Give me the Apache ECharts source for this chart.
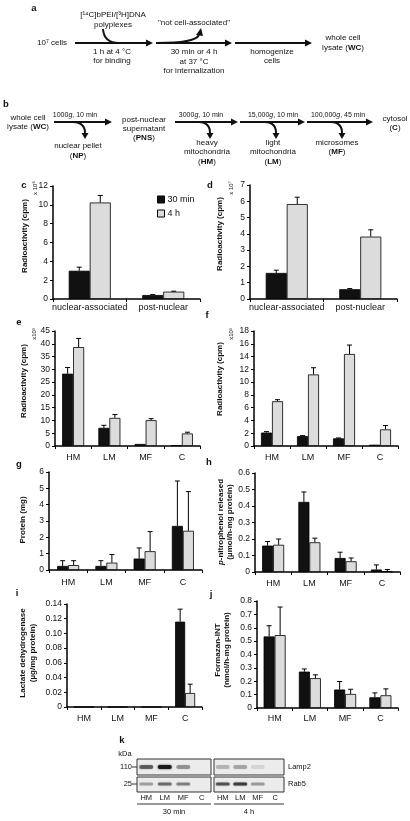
<!DOCTYPE html>
<html><head><meta charset="utf-8">
<script src="https://cdn.jsdelivr.net/npm/echarts@6/dist/echarts.min.js"></script>
<style>html,body{margin:0;padding:0;background:#fff}#c{width:410px;height:821px}</style>
</head><body><div id="c"></div>
<script>
const FONT = '"Liberation Sans", Arial, Helvetica, sans-serif';

// ---------------- data ----------------
const fracCats = ['nuclear-associated', 'post-nuclear'];
const subCats = ['HM', 'LM', 'MF', 'C'];
const seriesNames = ['30 min', '4 h'];

// c: [14C]bPEI radioactivity (x10^6 cpm)
const c30 = [3.0, 0.42];   const c30Err = [0.38, 0.05];
const c4h = [10.25, 0.78]; const c4hErr = [0.75, 0.05];
// d: [3H]DNA radioactivity (x10^7 cpm)
const d30 = [1.6, 0.6];    const d30Err = [0.17, 0.04];
const d4h = [5.83, 3.83];  const d4hErr = [0.42, 0.42];
// e: bPEI in subcellular fractions (x10^3 cpm)
const e30 = [28.3, 7.1, 0.8, 0.3];   const e30Err = [2.4, 1.0, 0, 0];
const e4h = [38.7, 11.0, 10.1, 4.9]; const e4hErr = [3.4, 1.3, 0.6, 0.5];
// f: DNA in subcellular fractions (x10^3 cpm)
const f30 = [2.1, 1.55, 1.2, 0.2];   const f30Err = [0.15, 0.08, 0.06, 0];
const f4h = [7.0, 11.2, 14.4, 2.6];  const f4hErr = [0.25, 1.05, 1.4, 0.6];
// g: protein (mg)
const g30 = [0.25, 0.25, 0.7, 2.7];  const g30Err = [0.32, 0.32, 0.65, 2.75];
const g4h = [0.3, 0.45, 1.15, 2.4];  const g4hErr = [0.27, 0.5, 1.2, 2.4];
// h: acid phosphatase (p-nitrophenol released)
const h30 = [0.16, 0.425, 0.085, 0.015]; const h30Err = [0.025, 0.06, 0.035, 0.028];
const h4h = [0.165, 0.18, 0.065, 0.005]; const h4hErr = [0.035, 0.025, 0.02, 0.01];
// i: lactate dehydrogenase
const i30 = [0, 0, 0, 0.116]; const i30Err = [0, 0, 0, 0.017];
const i4h = [0, 0, 0, 0.019]; const i4hErr = [0, 0, 0, 0.012];
// j: formazan-INT
const j30 = [0.535, 0.272, 0.138, 0.08]; const j30Err = [0.08, 0.02, 0.06, 0.033];
const j4h = [0.545, 0.223, 0.105, 0.095]; const j4hErr = [0.21, 0.025, 0.035, 0.048];

// k: western blot band intensities (lanes HM, LM, MF, C)
const lamp2_30 = [0.55, 0.9, 0.35, 0];
const lamp2_4h = [0.22, 0.28, 0.1, 0];
const rab5_30 = [0.3, 0.5, 0.42, 0];
const rab5_4h = [0.6, 0.7, 0.32, 0];

// ---------------- build ----------------
const chart = echarts.init(document.getElementById('c'), null, {renderer: 'canvas'});
const grids = [], xAxes = [], yAxes = [], series = [];
const BLACK = '#111', GRAY = '#dcdcdc';

function errSeries(gi, vals, errs, sign, bw) {
  return {
    type: 'custom', xAxisIndex: gi, yAxisIndex: gi, silent: true, z: 5,
    data: vals.map((v, i) => [i, v, errs[i]]),
    renderItem: function (params, api) {
      const idx = api.value(0), v = api.value(1), e = api.value(2);
      if (!(e > 0)) return null;
      const base = api.coord([idx, v]);
      const top = api.coord([idx, v + e]);
      const x = base[0] + sign * bw / 2;
      return {
        type: 'group', children: [
          {type: 'line', shape: {x1: x, y1: base[1], x2: x, y2: top[1]}, style: {stroke: '#000', lineWidth: 1}},
          {type: 'line', shape: {x1: x - 2.5, y1: top[1], x2: x + 2.5, y2: top[1]}, style: {stroke: '#000', lineWidth: 1}}
        ]
      };
    }
  };
}

function addPanel(p) {
  const gi = grids.length;
  grids.push({left: p.left, top: p.top, width: p.width, height: p.height});
  xAxes.push({
    type: 'category', gridIndex: gi, data: p.cats,
    axisLine: {lineStyle: {color: '#000', width: 1.5}},
    axisTick: {show: true, length: 3, lineStyle: {color: '#000', width: 1}},
    axisLabel: {color: '#111', fontSize: 9, fontFamily: FONT, margin: p.xMargin, interval: 0}
  });
  yAxes.push({
    type: 'value', gridIndex: gi, min: 0, max: p.max, interval: p.int,
    axisLine: {show: true, lineStyle: {color: '#000', width: 1.5}},
    axisTick: {show: true, length: 3, lineStyle: {color: '#000', width: 1}},
    splitLine: {show: false},
    axisLabel: {color: '#111', fontSize: 8.5, fontFamily: FONT, margin: 5, formatter: p.fmt}
  });
  series.push({type: 'bar', name: seriesNames[0], xAxisIndex: gi, yAxisIndex: gi, data: p.s30,
    barWidth: p.bw, barGap: '0%', itemStyle: {color: BLACK, borderColor: '#000', borderWidth: 0.8}});
  series.push({type: 'bar', name: seriesNames[1], xAxisIndex: gi, yAxisIndex: gi, data: p.s4h,
    barWidth: p.bw, barGap: '0%', itemStyle: {color: GRAY, borderColor: '#000', borderWidth: 0.8}});
  series.push(errSeries(gi, p.s30, p.e30, -1, p.bw));
  series.push(errSeries(gi, p.s4h, p.e4h, 1, p.bw));
}

const fmt2 = v => v === 0 ? '0' : v.toFixed(2);
const fmt1 = v => v === 0 ? '0' : v.toFixed(1);

addPanel({left: 53, top: 186, width: 147, height: 113, cats: fracCats, s30: c30, e30: c30Err, s4h: c4h, e4h: c4hErr, max: 12, int: 2, bw: 21, xMargin: 4});
addPanel({left: 250, top: 185, width: 147, height: 114, cats: fracCats, s30: d30, e30: d30Err, s4h: d4h, e4h: d4hErr, max: 7, int: 1, bw: 21, xMargin: 4});
addPanel({left: 55, top: 331, width: 145, height: 115, cats: subCats, s30: e30, e30: e30Err, s4h: e4h, e4h: e4hErr, max: 45, int: 5, bw: 11, xMargin: 7});
addPanel({left: 254, top: 331, width: 144, height: 115, cats: subCats, s30: f30, e30: f30Err, s4h: f4h, e4h: f4hErr, max: 18, int: 2, bw: 11, xMargin: 7});
addPanel({left: 49, top: 472, width: 153, height: 98, cats: subCats, s30: g30, e30: g30Err, s4h: g4h, e4h: g4hErr, max: 6, int: 1, bw: 11, xMargin: 8});
addPanel({left: 255, top: 473, width: 145, height: 99, cats: subCats, s30: h30, e30: h30Err, s4h: h4h, e4h: h4hErr, max: 0.6, int: 0.1, bw: 11, xMargin: 7, fmt: fmt1});
addPanel({left: 67, top: 604, width: 135, height: 103, cats: subCats, s30: i30, e30: i30Err, s4h: i4h, e4h: i4hErr, max: 0.14, int: 0.02, bw: 10, xMargin: 7, fmt: fmt2});
addPanel({left: 257, top: 601, width: 141, height: 107, cats: subCats, s30: j30, e30: j30Err, s4h: j4h, e4h: j4hErr, max: 0.8, int: 0.1, bw: 11, xMargin: 6, fmt: fmt1});

// ---------------- graphics (schemes, titles, blot) ----------------
const G = [];
function T(x, y, text, o) {
  o = o || {};
  const size = o.size || 8;
  return {type: 'text', x: x, y: y, rotation: o.rot || 0, z: 100, silent: true,
    style: {text: text, fill: '#111',
      font: (o.italic ? 'italic ' : '') + (o.bold ? 'bold ' : '') + size + 'px ' + FONT,
      textAlign: o.align || 'center', textVerticalAlign: 'middle',
      lineHeight: o.lh, rich: o.rich}};
}
function R(size) {
  return {
    n: {fontSize: size, fontFamily: FONT, fill: '#111'},
    b: {fontSize: size, fontFamily: FONT, fontWeight: 'bold', fill: '#111'},
    i: {fontSize: size, fontFamily: FONT, fontStyle: 'italic', fill: '#111'}
  };
}
function arrowH(x1, x2, y) {
  G.push({type: 'line', shape: {x1: x1, y1: y, x2: x2 - 5, y2: y}, style: {stroke: '#111', lineWidth: 2.2}});
  G.push({type: 'polygon', shape: {points: [[x2, y], [x2 - 7, y - 3.5], [x2 - 7, y + 3.5]]}, style: {fill: '#111'}});
}
function curveDown(x1, y1, x2, y2) {
  G.push({type: 'bezierCurve', shape: {x1: x1, y1: y1, x2: x2, y2: y2 - 5, cpx1: x2 + 0.5, cpy1: y1 + 0.5}, style: {stroke: '#111', lineWidth: 2, fill: 'none'}});
  G.push({type: 'polygon', shape: {points: [[x2, y2], [x2 - 3.5, y2 - 6], [x2 + 3.5, y2 - 6]]}, style: {fill: '#111'}});
}
const lbl = (x, y, t) => G.push(T(x, y, t, {bold: true, size: 9.5}));

// panel a
lbl(34, 8, 'a');
G.push(T(52, 43, '10⁷ cells'));
arrowH(75, 153, 43);
arrowH(156, 232, 43);
arrowH(235, 312, 43);
G.push(T(113, 15, '[¹⁴C]bPEI/[³H]DNA'));
G.push(T(113, 25, 'polyplexes'));
G.push({type: 'bezierCurve', shape: {x1: 103, y1: 29, x2: 119, y2: 43, cpx1: 104, cpy1: 43}, style: {stroke: '#111', lineWidth: 2, fill: 'none'}});
G.push(T(112, 52, '1 h at 4 °C'));
G.push(T(112, 61, 'for binding'));
G.push(T(194, 23, '"not cell-associated"'));
G.push({type: 'bezierCurve', shape: {x1: 158, y1: 43, x2: 199, y2: 35, cpx1: 195, cpy1: 43}, style: {stroke: '#111', lineWidth: 2, fill: 'none'}});
G.push({type: 'polygon', shape: {points: [[201, 28], [196, 35], [203, 36]]}, style: {fill: '#111'}});
G.push(T(194, 52, '30 min or 4 h'));
G.push(T(194, 62, 'at 37 °C'));
G.push(T(194, 71, 'for internalization'));
G.push(T(272, 52, 'homogenize'));
G.push(T(272, 61, 'cells'));
G.push(T(343, 38, 'whole cell'));
G.push(T(343, 48, '{n|lysate (}{b|WC}{n|)}', {rich: R(8)}));

// panel b
lbl(6, 104, 'b');
G.push(T(28, 118, 'whole cell'));
G.push(T(28, 127, '{n|lysate (}{b|WC}{n|)}', {rich: R(8)}));
arrowH(54, 112, 122);
G.push(T(75, 115, '{n|1000}{i|g}{n|, 10 min}', {rich: R(7)}));
curveDown(73, 122, 85, 139);
G.push(T(78, 146, 'nuclear pellet'));
G.push(T(78, 156, '{n|(}{b|NP}{n|)}', {rich: R(8)}));
G.push(T(144, 120, 'post-nuclear'));
G.push(T(144, 129, 'supernatant'));
G.push(T(144, 138, '{n|(}{b|PNS}{n|)}', {rich: R(8)}));
arrowH(175, 238, 122);
G.push(T(201, 115, '{n|3000}{i|g}{n|, 10 min}', {rich: R(7)}));
curveDown(199, 122, 210, 139);
G.push(T(207, 143, 'heavy'));
G.push(T(207, 152, 'mitochondria'));
G.push(T(207, 162, '{n|(}{b|HM}{n|)}', {rich: R(8)}));
arrowH(240, 305, 122);
G.push(T(273, 115, '{n|15,000}{i|g}{n|, 10 min}', {rich: R(7)}));
curveDown(265, 122, 276, 139);
G.push(T(273, 143, 'light'));
G.push(T(273, 152, 'mitochondria'));
G.push(T(273, 162, '{n|(}{b|LM}{n|)}', {rich: R(8)}));
arrowH(307, 373, 122);
G.push(T(338, 115, '{n|100,000}{i|g}{n|, 45 min}', {rich: R(7)}));
curveDown(331, 122, 342, 139);
G.push(T(337, 143, 'microsomes'));
G.push(T(337, 152, '{n|(}{b|MF}{n|)}', {rich: R(8)}));
G.push(T(395, 119, 'cytosol'));
G.push(T(395, 128, '{n|(}{b|C}{n|)}', {rich: R(8)}));

// chart panel letters
lbl(24, 185, 'c'); lbl(210, 185, 'd');
lbl(19, 322, 'e'); lbl(207, 315, 'f');
lbl(19, 464, 'g'); lbl(209, 462, 'h');
lbl(17, 593, 'i'); lbl(211, 594, 'j');
lbl(122, 740, 'k');

// y-axis titles
const ROT = Math.PI / 2;
G.push(T(25, 236, 'Radioactivity (cpm)', {bold: true, rot: ROT}));
G.push(T(220, 234, 'Radioactivity (cpm)', {bold: true, rot: ROT}));
G.push(T(24, 381, 'Radioactivity (cpm)', {bold: true, rot: ROT}));
G.push(T(220, 379, 'Radioactivity (cpm)', {bold: true, rot: ROT}));
G.push(T(23, 520, 'Protein (mg)', {bold: true, rot: ROT}));
G.push(T(225, 522, '{bi|p}{b|-nitrophenol released}\n{b|(µmol/h-mg protein)}', {rot: ROT, lh: 9,
  rich: {b: {fontSize: 8, fontWeight: 'bold', fontFamily: FONT, fill: '#111', lineHeight: 9},
         bi: {fontSize: 8, fontWeight: 'bold', fontStyle: 'italic', fontFamily: FONT, fill: '#111', lineHeight: 9}}}));
G.push(T(28, 653, 'Lactate dehydrogenase\n(µg/mg protein)', {bold: true, rot: ROT, lh: 10}));
G.push(T(222, 650, 'Formazan-INT\n(nmol/h-mg protein)', {bold: true, rot: ROT, lh: 9}));

// multipliers
G.push(T(35, 188, 'x 10⁶', {rot: ROT, size: 6}));
G.push(T(231, 188, 'x 10⁷', {rot: ROT, size: 6}));
G.push(T(34, 334, 'x10³', {rot: ROT, size: 6}));
G.push(T(231, 334, 'x10³', {rot: ROT, size: 6}));

// panel k blot
const boxes = [{x0: 137, x1: 211, l: lamp2_30, r: rab5_30}, {x0: 214, x1: 284, l: lamp2_4h, r: rab5_4h}];
boxes.forEach(function (b) {
  const w = b.x1 - b.x0;
  G.push({type: 'rect', shape: {x: b.x0, y: 759, width: w, height: 16}, style: {fill: '#ececec', stroke: '#333', lineWidth: 1}});
  G.push({type: 'rect', shape: {x: b.x0, y: 777, width: w, height: 15}, style: {fill: '#ececec', stroke: '#333', lineWidth: 1}});
  for (let k = 0; k < 4; k++) {
    const cx = b.x0 + w * (k + 0.5) / 4;
    if (b.l[k] > 0) G.push({type: 'rect', shape: {x: cx - 7, y: 765, width: 14, height: 4, r: 2},
      style: {fill: 'rgba(20,20,20,' + b.l[k] + ')', shadowBlur: 2, shadowColor: 'rgba(20,20,20,' + b.l[k] + ')'}});
    if (b.r[k] > 0) G.push({type: 'rect', shape: {x: cx - 7, y: 782.5, width: 14, height: 3, r: 1.5},
      style: {fill: 'rgba(20,20,20,' + b.r[k] + ')', shadowBlur: 2, shadowColor: 'rgba(20,20,20,' + b.r[k] + ')'}});
    G.push(T(cx, 798, subCats[k], {size: 7.5}));
  }
  G.push({type: 'line', shape: {x1: b.x0, y1: 804, x2: b.x1, y2: 804}, style: {stroke: '#333', lineWidth: 1}});
});
G.push(T(174, 812, '30 min', {size: 7.5}));
G.push(T(249, 812, '4 h', {size: 7.5}));
G.push(T(125, 754, 'kDa', {size: 7.5}));
G.push(T(132, 767, '110', {size: 7.5, align: 'right'}));
G.push(T(132, 784, '25', {size: 7.5, align: 'right'}));
G.push({type: 'line', shape: {x1: 132, y1: 767, x2: 137, y2: 767}, style: {stroke: '#333', lineWidth: 1}});
G.push({type: 'line', shape: {x1: 132, y1: 784, x2: 137, y2: 784}, style: {stroke: '#333', lineWidth: 1}});
G.push(T(288, 767, 'Lamp2', {size: 7.5, align: 'left'}));
G.push(T(288, 784, 'Rab5', {size: 7.5, align: 'left'}));

chart.setOption({
  animation: false,
  backgroundColor: '#fff',
  textStyle: {fontFamily: FONT},
  legend: {
    data: [
      {name: seriesNames[0], itemStyle: {color: BLACK, borderColor: '#000', borderWidth: 1}},
      {name: seriesNames[1], itemStyle: {color: GRAY, borderColor: '#000', borderWidth: 1}}
    ],
    orient: 'vertical', left: 157, top: 195, itemWidth: 7, itemHeight: 7, itemGap: 5,
    icon: 'rect', textStyle: {fontSize: 9, color: '#111', fontFamily: FONT, padding: [0, 0, 0, -2]}, padding: 0
  },
  grid: grids, xAxis: xAxes, yAxis: yAxes, series: series,
  graphic: {elements: G}
});
</script>
</body></html>
